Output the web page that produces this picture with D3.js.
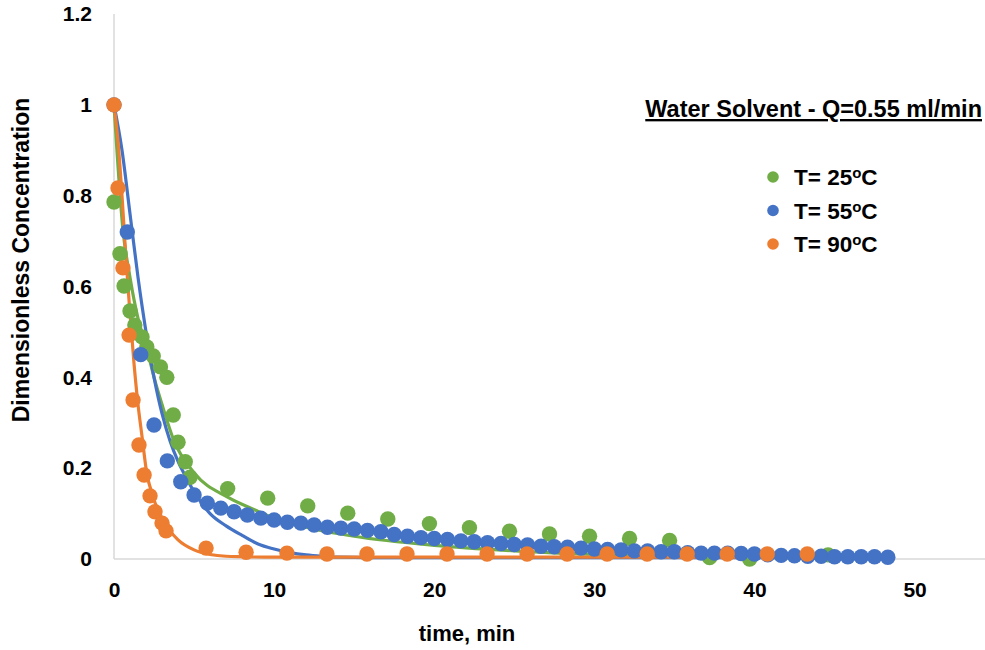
<!DOCTYPE html>
<html>
  <head>
    <title>Dimensionless Concentration vs time</title>
    <script src="https://d3js.org/d3.v7.min.js"></script>
    <style>
      body { margin: 0; background: #fff; }
      text { font-family: "Liberation Sans", Arial, sans-serif; font-weight: bold; fill: #000; }
    </style>
  </head>
  <body>
    <script>
      var width = 985;
      var height = 650;

      // measured points (time, min / concentration)
      var t25 = [0, 0.375, 0.63, 1.0, 1.3, 1.75, 2.05, 2.45, 2.9, 3.3, 3.7, 4.0, 4.45, 4.75,
                 7.1, 9.6, 12.1, 14.6, 17.1, 19.7, 22.2, 24.7, 27.2, 29.7, 32.2, 34.7, 37.2, 39.7, 44.6];
      var c25 = [0.786, 0.672, 0.601, 0.546, 0.515, 0.489, 0.467, 0.447, 0.423, 0.40, 0.317, 0.257, 0.214, 0.18,
                 0.155, 0.134, 0.117, 0.101, 0.088, 0.078, 0.069, 0.061, 0.055, 0.05, 0.045, 0.041, 0.003, 0.0, 0.009];

      var t55 = [0, 0.83, 1.67, 2.5, 3.33, 4.17, 5.0, 5.83, 6.67, 7.5, 8.33, 9.17, 10, 10.83, 11.67, 12.5,
                 13.33, 14.17, 15, 15.83, 16.67, 17.5, 18.33, 19.17, 20, 20.83, 21.67, 22.5, 23.33, 24.17,
                 25, 25.83, 26.67, 27.5, 28.33, 29.17, 30, 30.83, 31.67, 32.5, 33.33, 34.17, 35, 35.83,
                 36.67, 37.5, 38.33, 39.17, 40, 40.83, 41.67, 42.5, 43.33, 44.17, 45, 45.83, 46.67, 47.5, 48.33];
      var c55 = [1.0, 0.72, 0.45, 0.295, 0.216, 0.17, 0.141, 0.123, 0.112, 0.104, 0.097, 0.090, 0.086, 0.081,
                 0.079, 0.075, 0.070, 0.068, 0.066, 0.063, 0.060, 0.054, 0.050, 0.047, 0.045, 0.043, 0.040,
                 0.038, 0.036, 0.034, 0.032, 0.031, 0.028, 0.027, 0.026, 0.024, 0.022, 0.021, 0.020, 0.018,
                 0.018, 0.016, 0.016, 0.014, 0.013, 0.013, 0.013, 0.012, 0.011, 0.009, 0.008, 0.007, 0.006,
                 0.006, 0.005, 0.005, 0.005, 0.005, 0.004];

      var t90 = [0, 0.25, 0.56, 0.94, 1.19, 1.56, 1.88, 2.25, 2.56, 3.0, 3.25, 5.75, 8.25, 10.8, 13.3,
                 15.8, 18.3, 20.8, 23.3, 25.8, 28.3, 30.8, 33.3, 35.8, 38.3, 40.8, 43.3];
      var c90 = [1.0, 0.817, 0.641, 0.493, 0.35, 0.251, 0.185, 0.139, 0.104, 0.079, 0.062, 0.024, 0.015,
                 0.013, 0.011, 0.011, 0.011, 0.011, 0.011, 0.011, 0.011, 0.011, 0.011, 0.011, 0.011, 0.011, 0.011];

      // model curves
      var fit25t = [0, 0.56, 1.0, 1.5, 2.0, 2.5, 3.0, 3.75, 5.0, 7.1, 8.8, 10, 12, 15, 20, 25, 30, 35, 40, 45, 48.3];
      var fit25c = [1.0, 0.725, 0.62, 0.53, 0.47, 0.40, 0.34, 0.26, 0.19, 0.136, 0.108, 0.09, 0.07, 0.05,
                    0.03, 0.018, 0.01, 0.006, 0.004, 0.002, 0.002];
      var fit55t = [0, 0.5, 1.0, 1.5, 2.0, 2.5, 3.0, 3.5, 4.0, 4.5, 5, 6, 7, 8, 9, 10, 11, 12, 13, 14, 16, 20, 30, 48.3];
      var fit55c = [1.0, 0.9, 0.76, 0.62, 0.50, 0.40, 0.32, 0.26, 0.215, 0.18, 0.148, 0.10, 0.073, 0.052,
                    0.033, 0.022, 0.014, 0.009, 0.006, 0.004, 0.003, 0.003, 0.003, 0.003];
      var fit90t = [0, 0.25, 0.5, 0.75, 1.0, 1.25, 1.5, 1.75, 2.0, 2.5, 3.0, 3.5, 4.0, 5, 6, 7, 8, 10, 15, 43.3];
      var fit90c = [1.0, 0.92, 0.8, 0.66, 0.54, 0.43, 0.34, 0.27, 0.2, 0.13, 0.09, 0.062, 0.042, 0.02,
                    0.01, 0.006, 0.005, 0.004, 0.004, 0.004];

      var seriesNames = ["25", "55", "90"];
      var colors = ["#70AD47", "#4472C4", "#ED7D31"];
      var xTicks = [0, 10, 20, 30, 40, 50];
      var yTicks = [0, 0.2, 0.4, 0.6, 0.8, 1, 1.2];

      var series = [
        {name: seriesNames[0], t: t25, c: c25, ft: fit25t, fc: fit25c, color: colors[0]},
        {name: seriesNames[1], t: t55, c: c55, ft: fit55t, fc: fit55c, color: colors[1]},
        {name: seriesNames[2], t: t90, c: c90, ft: fit90t, fc: fit90c, color: colors[2]}
      ];

      var svg = d3.select("body")
        .append("svg")
        .attr("width", width)
        .attr("height", height);

      var xScale = d3.scaleLinear()
        .domain([0, 54.4])
        .range([114, 985]);

      var yScale = d3.scaleLinear()
        .domain([0, 1.2])
        .range([559, 14]);

      // axis lines
      svg.append("line")
        .attr("x1", xScale(0)).attr("x2", xScale(54.4))
        .attr("y1", yScale(0)).attr("y2", yScale(0))
        .attr("stroke", "#d9d9d9").attr("stroke-width", 1.5);
      svg.append("line")
        .attr("x1", xScale(0)).attr("x2", xScale(0))
        .attr("y1", yScale(0)).attr("y2", yScale(1.2))
        .attr("stroke", "#d9d9d9").attr("stroke-width", 1.5);

      var xAxis = svg.append("g")
        .attr("transform", `translate(0,${yScale(0)})`)
        .call(d3.axisBottom(xScale).tickValues(xTicks).tickSize(0).tickPadding(23).tickFormat(d3.format("d")));
      xAxis.select(".domain").remove();
      xAxis.selectAll("text").style("font-size", "21px").style("font-family", null);

      var yAxis = svg.append("g")
        .attr("transform", `translate(92,0)`)
        .call(d3.axisLeft(yScale).tickValues(yTicks).tickSize(0).tickPadding(0).tickFormat(d => d3.format("")(+d.toFixed(1))));
      yAxis.select(".domain").remove();
      yAxis.selectAll("text").style("font-size", "21px").style("font-family", null);

      // fitted curves
      var line = d3.line()
        .x(d => xScale(d[0]))
        .y(d => yScale(d[1]))
        .curve(d3.curveMonotoneX);

      series.forEach(function(s) {
        svg.append("path")
          .datum(s.ft.map((t, i) => [t, s.fc[i]]))
          .attr("d", line)
          .attr("fill", "none")
          .attr("stroke", s.color)
          .attr("stroke-width", 3.2);
      });

      // measured points
      series.forEach(function(s) {
        svg.append("g").selectAll("circle")
          .data(s.t.map((t, i) => [t, s.c[i]]))
          .enter()
          .append("circle")
            .attr("cx", d => xScale(d[0]))
            .attr("cy", d => yScale(d[1]))
            .attr("r", 7.7)
            .attr("fill", s.color);
      });

      // axis titles
      svg.append("text")
        .attr("x", 467)
        .attr("y", 641)
        .attr("text-anchor", "middle")
        .style("font-size", "22px")
        .text("time, min");

      svg.append("text")
        .attr("transform", "translate(29,260) rotate(-90)")
        .attr("text-anchor", "middle")
        .style("font-size", "23px")
        .text("Dimensionless Concentration");

      // legend
      svg.append("text")
        .attr("x", 982)
        .attr("y", 117)
        .attr("text-anchor", "end")
        .attr("text-decoration", "underline")
        .style("font-size", "23.5px")
        .text("Water Solvent - Q=0.55 ml/min");

      var legend = svg.append("g")
        .selectAll("g")
        .data(series)
        .enter()
        .append("g")
          .attr("transform", (d, i) => `translate(773,${177 + i * 33.5})`);

      legend.append("circle")
        .attr("r", 5.8)
        .attr("fill", d => d.color);

      var lt = legend.append("text")
        .attr("x", 21)
        .attr("y", 8)
        .style("font-size", "22.5px");
      lt.append("tspan").text(d => "T= " + d.name);
      lt.append("tspan").attr("dy", -7).style("font-size", "15px").text("o");
      lt.append("tspan").attr("dy", 7).text("C");
    </script>
  </body>
</html>
